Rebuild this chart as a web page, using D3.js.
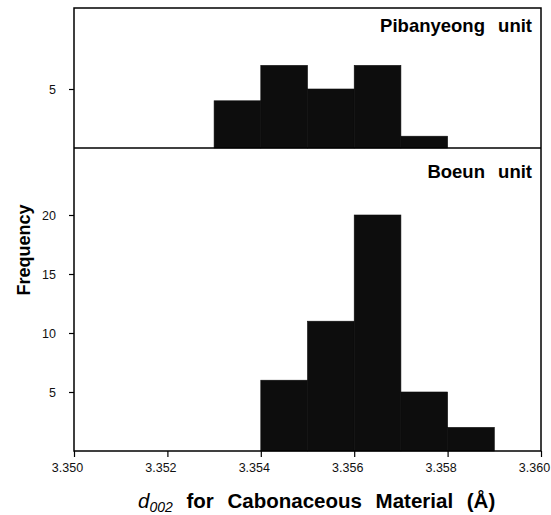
<!DOCTYPE html>
<html><head><meta charset="utf-8">
<script src="https://cdn.jsdelivr.net/npm/d3@7/dist/d3.min.js"></script>
<style>body{margin:0;background:#fff}svg{display:block}</style>
</head><body>
<svg id="c" width="551" height="515"></svg>
<script>
// Data
const binStarts = [3.350, 3.351, 3.352, 3.353, 3.354, 3.355, 3.356, 3.357, 3.358, 3.359];
const binWidth = 0.001;
const pibanyeongCounts = [0, 0, 0, 4, 7, 5, 7, 1, 0, 0];
const boeunCounts      = [0, 0, 0, 0, 6, 11, 20, 5, 2, 0];
const xTicks = [3.350, 3.352, 3.354, 3.356, 3.358, 3.360];
const topYTicks = [5];
const bottomYTicks = [5, 10, 15, 20];
const panelNames = ["Pibanyeong unit", "Boeun unit"];

const svg = d3.select("#c");
const L = 74, R = 541, T = 8, MID = 148, B = 451;
const x = d3.scaleLinear().domain([3.350, 3.360]).range([L, R]);
const pxPerUnit = 11.8;
const yTop = d3.scaleLinear().domain([0, (MID - T) / pxPerUnit]).range([MID, T]);
const yBot = d3.scaleLinear().domain([0, (B - MID) / pxPerUnit]).range([B, MID]);

const font = "'Liberation Sans', Arial, Helvetica, sans-serif";
const barFill = "#0d0d0d";

function drawBars(counts, y) {
  svg.append("g").selectAll("rect")
    .data(binStarts.map((s, i) => ({s, c: counts[i]})).filter(d => d.c > 0))
    .join("rect")
    .attr("x", d => x(d.s))
    .attr("width", d => x(d.s + binWidth) - x(d.s))
    .attr("y", d => y(d.c))
    .attr("height", d => y(0) - y(d.c))
    .attr("fill", barFill)
    .attr("stroke", barFill).attr("stroke-width", 0.6);
}
drawBars(pibanyeongCounts, yTop);
drawBars(boeunCounts, yBot);

// Axes
function styleAxis(g) {
  g.selectAll("path").remove();
  g.selectAll("line").attr("stroke", "#000").attr("stroke-width", 1.2);
  g.selectAll("text").attr("font-family", font).attr("font-size", 12.5).attr("fill", "#111");
}
svg.append("g").attr("transform", `translate(${L},0)`)
  .call(d3.axisLeft(yTop).tickValues(topYTicks).tickSize(5).tickPadding(13).tickFormat(d3.format("d")))
  .call(styleAxis);
svg.append("g").attr("transform", `translate(${L},0)`)
  .call(d3.axisLeft(yBot).tickValues(bottomYTicks).tickSize(5).tickPadding(13).tickFormat(d3.format("d")))
  .call(styleAxis);
svg.append("g").attr("transform", `translate(0,${B})`)
  .call(d3.axisBottom(x).tickValues(xTicks).tickSize(6).tickPadding(6).tickFormat(d3.format(".3f")))
  .call(styleAxis)
  .call(g => g.selectAll("text").attr("dx", -7));

// Frame
svg.append("rect").attr("x", L).attr("y", T).attr("width", R - L).attr("height", B - T)
  .attr("fill", "none").attr("stroke", "#000").attr("stroke-width", 1.5);
svg.append("line").attr("x1", L).attr("x2", R).attr("y1", MID).attr("y2", MID)
  .attr("stroke", "#000").attr("stroke-width", 1.5);

// Panel labels
[[panelNames[0], 32], [panelNames[1], 178]].forEach(([t, yy]) => {
  svg.append("text").attr("x", 532).attr("y", yy).attr("text-anchor", "end")
    .attr("font-family", font).attr("font-weight", "bold").attr("font-size", 18.5)
    .style("word-spacing", "8px").text(t);
});

// Y title
svg.append("text").attr("transform", `translate(30,250) rotate(-90)`)
  .attr("text-anchor", "middle").attr("font-family", font).attr("font-weight", "bold")
  .attr("font-size", 18).text("Frequency");

// X title
const xt = svg.append("text").attr("x", 138).attr("y", 508).attr("text-anchor", "start")
  .attr("font-family", font).attr("font-size", 20.5).style("word-spacing", "8px");
xt.append("tspan").attr("font-style", "italic").text("d");
xt.append("tspan").attr("font-style", "italic").attr("font-size", 14).attr("dy", 4).text("002");
xt.append("tspan").attr("font-weight", "bold").attr("dy", -4).text(" for Cabonaceous Material (Å)");
</script>
</body></html>
